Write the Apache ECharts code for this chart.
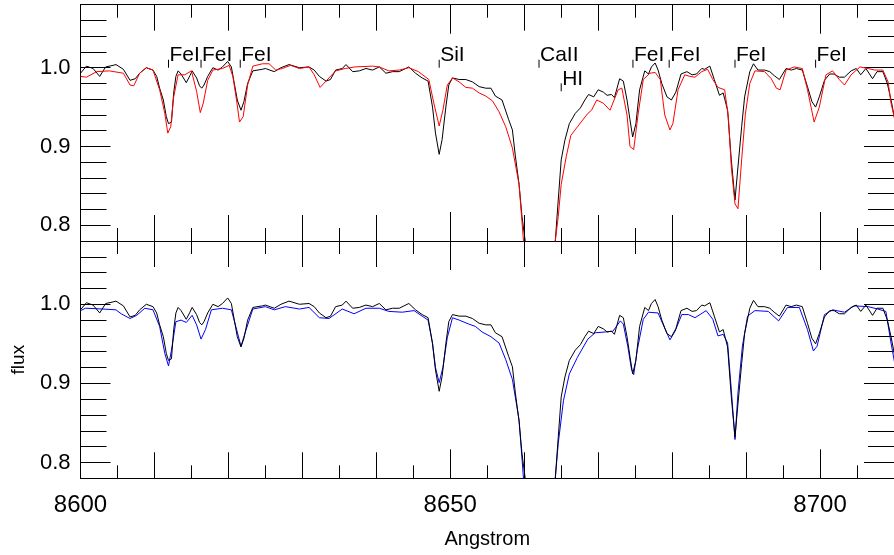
<!DOCTYPE html>
<html><head><meta charset="utf-8">
<script src="https://cdn.jsdelivr.net/npm/echarts@6/dist/echarts.min.js"></script>
<style>html,body{margin:0;padding:0;background:#fff}#c{width:894px;height:555px}</style>
</head><body><div id="c"></div>
<script>
// ---------- data ----------
const obsWave = [8600.0,8600.8,8601.7,8602.6,8603.4,8604.4,8604.8,8605.8,8606.7,8607.4,8608.0,8608.9,8609.8,8610.3,8610.7,8611.2,8611.6,8611.9,8612.3,8612.6,8612.9,8613.2,8613.6,8614.3,8614.8,8615.1,8615.7,8616.1,8616.4,8616.7,8617.2,8617.9,8618.6,8619.2,8619.9,8620.4,8620.8,8621.2,8621.7,8622.1,8622.6,8623.3,8624.6,8625.0,8626.2,8627.1,8628.2,8629.6,8630.9,8631.6,8632.3,8633.2,8633.8,8634.5,8635.4,8635.9,8636.8,8637.7,8638.6,8639.5,8640.4,8641.3,8642.2,8643.1,8644.4,8645.3,8646.2,8647.0,8647.6,8648.0,8648.5,8648.9,8649.4,8649.8,8650.3,8651.2,8652.1,8653.0,8653.9,8654.8,8655.5,8656.1,8657.0,8657.9,8658.4,8658.8,8659.3,8659.7,8660.2,8661.0,8662.1,8663.3,8664.2,8664.6,8665.0,8665.5,8666.1,8666.9,8667.6,8668.2,8668.7,8669.4,8670.0,8670.7,8671.2,8671.8,8672.2,8672.9,8673.4,8673.9,8674.3,8674.66,8675.1,8675.6,8676.3,8676.8,8677.2,8677.7,8678.1,8678.6,8679.3,8679.9,8680.5,8681.2,8682.0,8682.7,8683.3,8684.0,8684.4,8685.1,8685.7,8686.4,8686.9,8687.5,8688.0,8688.5,8688.9,8689.4,8689.8,8690.5,8691.0,8691.6,8692.5,8693.2,8693.8,8694.5,8695.4,8696.1,8696.8,8697.6,8698.3,8698.9,8699.4,8699.9,8700.6,8701.3,8701.9,8702.6,8703.3,8704.2,8704.9,8705.5,8706.2,8707.1,8707.7,8708.5,8709.1,8709.6,8710.2];
const obsFlux = [0.993,1.002,0.999,0.989,1.001,1.003,1.004,0.998,0.984,0.986,0.993,1.000,0.997,0.989,0.974,0.959,0.938,0.929,0.931,0.968,0.989,0.996,0.992,0.981,0.990,0.996,0.987,0.977,0.974,0.978,0.989,1.000,0.997,1.001,1.008,1.001,0.980,0.959,0.946,0.957,0.980,0.996,0.998,0.999,0.995,1.000,1.004,1.000,1.001,0.997,0.989,0.983,0.985,0.997,0.999,1.004,0.995,0.996,0.999,0.997,1.001,0.993,0.995,0.995,1.001,0.993,0.987,0.983,0.950,0.917,0.890,0.909,0.950,0.978,0.987,0.985,0.985,0.982,0.976,0.974,0.974,0.964,0.959,0.934,0.921,0.888,0.852,0.811,0.775,0.700,0.600,0.700,0.780,0.832,0.883,0.908,0.929,0.942,0.949,0.959,0.966,0.963,0.972,0.969,0.965,0.966,0.962,0.986,0.983,0.959,0.934,0.912,0.929,0.972,0.996,0.992,1.001,1.006,0.997,0.980,0.963,0.959,0.969,0.992,0.995,0.991,0.992,0.999,0.998,1.002,0.985,0.965,0.968,0.946,0.883,0.832,0.874,0.925,0.963,0.995,1.005,0.997,0.997,0.995,0.990,0.985,0.999,0.997,0.999,0.997,0.976,0.957,0.950,0.963,0.984,0.992,0.992,0.988,0.988,0.996,0.999,0.991,0.999,0.986,0.995,0.995,0.980,0.959,0.930];

const redWave = [8600.0,8600.8,8602.2,8603.9,8605.8,8606.7,8607.2,8608.0,8608.9,8609.8,8610.7,8611.4,8611.8,8612.2,8612.6,8613.2,8614.1,8615.0,8615.7,8616.2,8616.6,8617.2,8617.9,8619.2,8620.1,8620.6,8621.1,8621.5,8622.0,8622.6,8623.3,8624.6,8625.5,8626.4,8627.3,8628.4,8629.6,8630.9,8631.6,8632.4,8633.2,8634.5,8635.8,8637.1,8639.5,8640.4,8641.7,8643.1,8644.4,8645.7,8647.1,8647.8,8648.5,8649.0,8649.6,8650.3,8651.2,8652.1,8653.0,8653.9,8654.8,8655.7,8656.6,8657.5,8658.4,8659.3,8659.9,8660.8,8662.1,8663.4,8664.2,8664.6,8665.0,8665.7,8666.3,8667.2,8668.6,8669.1,8669.8,8670.7,8671.6,8672.7,8673.2,8673.9,8674.3,8674.8,8675.4,8676.1,8677.0,8677.7,8678.4,8679.0,8679.7,8680.1,8680.8,8681.7,8682.4,8683.1,8684.0,8684.8,8685.5,8686.2,8687.1,8687.6,8688.0,8688.5,8688.9,8689.4,8689.9,8690.5,8691.2,8692.5,8693.4,8694.1,8694.6,8695.4,8696.5,8697.6,8698.3,8699.2,8699.9,8700.8,8701.7,8702.6,8703.3,8704.2,8705.4,8706.5,8707.4,8708.5,8709.2,8709.6,8710.2];
const redFlux = [0.989,0.988,0.995,0.996,0.993,0.978,0.977,0.993,1.000,0.997,0.972,0.942,0.917,0.925,0.963,0.991,0.991,0.996,0.970,0.943,0.955,0.984,0.997,0.999,1.003,0.989,0.959,0.931,0.938,0.978,1.002,1.005,1.005,0.997,0.999,1.003,0.999,1.001,0.991,0.975,0.983,0.996,0.999,1.001,1.002,1.001,0.996,0.997,1.000,0.995,0.985,0.954,0.926,0.946,0.978,0.987,0.982,0.975,0.974,0.968,0.964,0.958,0.944,0.925,0.898,0.852,0.780,0.700,0.600,0.700,0.780,0.811,0.852,0.888,0.914,0.925,0.942,0.946,0.959,0.955,0.946,0.972,0.974,0.940,0.900,0.896,0.941,0.985,0.993,0.994,0.985,0.940,0.921,0.929,0.972,0.991,0.989,0.988,0.995,0.998,0.985,0.975,0.972,0.938,0.874,0.827,0.821,0.883,0.941,0.980,0.996,0.995,0.986,0.974,0.972,0.997,1.001,0.999,0.972,0.931,0.950,0.991,0.996,0.985,0.978,0.991,1.001,0.999,0.997,0.997,0.982,0.955,0.930];

const blueWave = [8600.0,8600.7,8603.0,8604.8,8605.5,8606.7,8607.6,8608.7,8609.8,8610.7,8611.4,8611.9,8612.3,8612.9,8613.6,8614.3,8615.1,8615.7,8616.3,8616.9,8617.7,8619.2,8620.4,8621.0,8621.7,8622.4,8623.3,8625.0,8626.2,8627.7,8629.6,8630.9,8632.3,8633.6,8635.4,8637.0,8638.6,8640.4,8641.7,8643.5,8645.1,8646.2,8647.0,8647.6,8648.0,8648.5,8649.0,8649.6,8650.3,8651.2,8652.5,8653.4,8654.3,8655.5,8656.6,8657.5,8658.4,8659.3,8659.9,8660.8,8662.1,8663.4,8664.2,8664.6,8665.3,8666.1,8667.2,8668.6,8669.6,8671.0,8672.0,8673.0,8673.4,8674.0,8674.5,8674.8,8675.3,8676.1,8676.8,8678.1,8678.8,8679.7,8680.4,8681.3,8682.2,8683.1,8684.6,8685.5,8686.2,8686.9,8687.5,8688.0,8688.5,8688.9,8689.5,8690.2,8691.2,8693.0,8694.4,8695.6,8697.2,8698.3,8699.1,8699.6,8700.6,8701.7,8703.3,8704.6,8706.5,8707.8,8708.9,8709.6,8710.2];
const blueFlux = [0.992,0.995,0.994,0.993,0.988,0.982,0.986,0.995,0.993,0.972,0.938,0.922,0.942,0.978,0.980,0.977,0.986,0.974,0.956,0.968,0.993,0.995,0.993,0.972,0.947,0.968,0.994,0.997,0.993,0.997,0.994,0.996,0.983,0.982,0.994,0.988,0.995,0.995,0.991,0.990,0.992,0.985,0.980,0.951,0.920,0.901,0.920,0.958,0.983,0.980,0.975,0.972,0.965,0.959,0.951,0.930,0.905,0.854,0.780,0.700,0.600,0.700,0.780,0.824,0.878,0.912,0.933,0.956,0.964,0.965,0.966,0.979,0.975,0.947,0.918,0.911,0.943,0.981,0.990,0.989,0.974,0.955,0.966,0.987,0.987,0.983,0.992,0.981,0.960,0.962,0.951,0.892,0.829,0.888,0.947,0.985,0.992,0.991,0.979,0.996,0.996,0.968,0.941,0.947,0.987,0.993,0.990,0.998,0.997,0.994,0.991,0.951,0.920];

const lineNames = ['FeI','FeI','FeI','SiI','CaII','HI','FeI','FeI','FeI','FeI'];
const lineWaves = [8611.9,8616.3,8621.6,8648.5,8662.0,8665.0,8674.7,8679.6,8688.5,8699.4];
const lineBase  = [1.0,1.0,1.0,1.0,1.0,0.97,1.0,1.0,1.0,1.0];

const xMinorTicks = [8600,8605,8610,8615,8620,8625,8630,8635,8640,8645,8650,8655,8660,8665,8670,8675,8680,8685,8690,8695,8700,8705,8710];
const xMidTicks = [8600,8610,8620,8630,8640,8650,8660,8670,8680,8690,8700,8710];
const xMajorTicks = [8600,8650,8700];
const yMinorTicks = [0.78,0.80,0.82,0.84,0.86,0.88,0.90,0.92,0.94,0.96,0.98,1.00,1.02,1.04,1.06,1.08];
const yMajorTicks = [0.8,0.9,1.0];

// ---------- chart ----------
const FONT = 'Liberation Sans';
const X_MIN = 8600, X_MAX = 8710, Y_MIN = 0.78, Y_MAX = 1.08;
const zip = (a, b) => a.map((v, i) => [v, b[i]]);

function mkX(g, pos, ticks, len, extra) {
  return Object.assign({
    type: 'value', gridIndex: g, position: pos, min: X_MIN, max: X_MAX,
    axisLine: {show: false}, splitLine: {show: false},
    axisTick: {show: true, inside: true, length: len, customValues: ticks, lineStyle: {color: '#000', width: 1}},
    axisLabel: {show: false}
  }, extra || {});
}
function mkY(g, pos, ticks, len, extra) {
  return Object.assign({
    type: 'value', gridIndex: g, position: pos, min: Y_MIN, max: Y_MAX,
    axisLine: {show: false}, splitLine: {show: false},
    axisTick: {show: true, inside: true, length: len, customValues: ticks, lineStyle: {color: '#000', width: 1}},
    axisLabel: {show: false}
  }, extra || {});
}
const lineOn = {show: true, onZero: false, lineStyle: {color: '#000', width: 1}};

const xAxes = [], yAxes = [];
for (let g = 0; g < 2; g++) {
  xAxes.push(mkX(g, 'bottom', xMinorTicks, 13, {axisLine: lineOn}));
  xAxes.push(mkX(g, 'bottom', xMidTicks, 26));
  xAxes.push(mkX(g, 'bottom', xMajorTicks, 29, g === 1 ? {
    axisLabel: {show: true, customValues: xMajorTicks, margin: 15, color: '#000', fontFamily: FONT, fontSize: 24, formatter: v => String(v)},
    name: 'Angstrom', nameLocation: 'middle', nameGap: 51,
    nameTextStyle: {color: '#000', fontFamily: FONT, fontSize: 20}
  } : {}));
  xAxes.push(mkX(g, 'top', xMinorTicks, 13, {axisLine: lineOn}));
  xAxes.push(mkX(g, 'top', xMidTicks, 26));
  xAxes.push(mkX(g, 'top', xMajorTicks, 29));

  yAxes.push(mkY(g, 'left', yMinorTicks, 26, {axisLine: lineOn}));
  yAxes.push(mkY(g, 'left', yMajorTicks, 30, Object.assign({
    axisLabel: {show: true, customValues: yMajorTicks, margin: 10, color: '#000', fontFamily: FONT, fontSize: 22, formatter: v => v.toFixed(1)}
  }, g === 1 ? {
    name: 'flux', nameLocation: 'middle', nameGap: 52, nameRotate: 90,
    nameTextStyle: {color: '#000', fontFamily: FONT, fontSize: 19}
  } : {})));
  yAxes.push(mkY(g, 'right', yMinorTicks, 26, {axisLine: lineOn}));
  yAxes.push(mkY(g, 'right', yMajorTicks, 30));
}

function lineSeries(x, y, wave, flux, color) {
  return {
    type: 'line', xAxisIndex: x, yAxisIndex: y, data: zip(wave, flux),
    showSymbol: false, symbol: 'none', clip: true, animation: false,
    lineStyle: {color: color, width: 1}, z: 2
  };
}

const option = {
  animation: false,
  backgroundColor: '#fff',
  grid: [
    {left: 80.5, top: 4.7, width: 816, height: 236.3},
    {left: 80.5, top: 241, width: 816, height: 237.3}
  ],
  xAxis: xAxes,
  yAxis: yAxes,
  series: [
    lineSeries(0, 0, obsWave, obsFlux, '#000'),
    lineSeries(0, 0, redWave, redFlux, '#ff0000'),
    {
      type: 'custom', xAxisIndex: 0, yAxisIndex: 0, animation: false, z: 5,
      data: lineWaves.map((w, i) => [w, lineBase[i]]),
      renderItem: function (params, api) {
        const p = api.coord([api.value(0), api.value(1)]);
        const name = lineNames[params.dataIndex];
        return {
          type: 'group', children: [
            {type: 'line', shape: {x1: p[0], y1: p[1], x2: p[0], y2: p[1] - 8}, style: {stroke: '#000', lineWidth: 1}},
            {type: 'text', x: p[0] + 1, y: p[1] - 2, style: {text: name, fill: '#000', font: '21px "Liberation Sans"', align: 'left', verticalAlign: 'bottom'}}
          ]
        };
      }
    },
    lineSeries(6, 4, blueWave, blueFlux, '#0000ff'),
    lineSeries(6, 4, obsWave, obsFlux, '#000')
  ]
};

const chart = echarts.init(document.getElementById('c'), null, {renderer: 'canvas'});
chart.setOption(option);
</script>
</body></html>
